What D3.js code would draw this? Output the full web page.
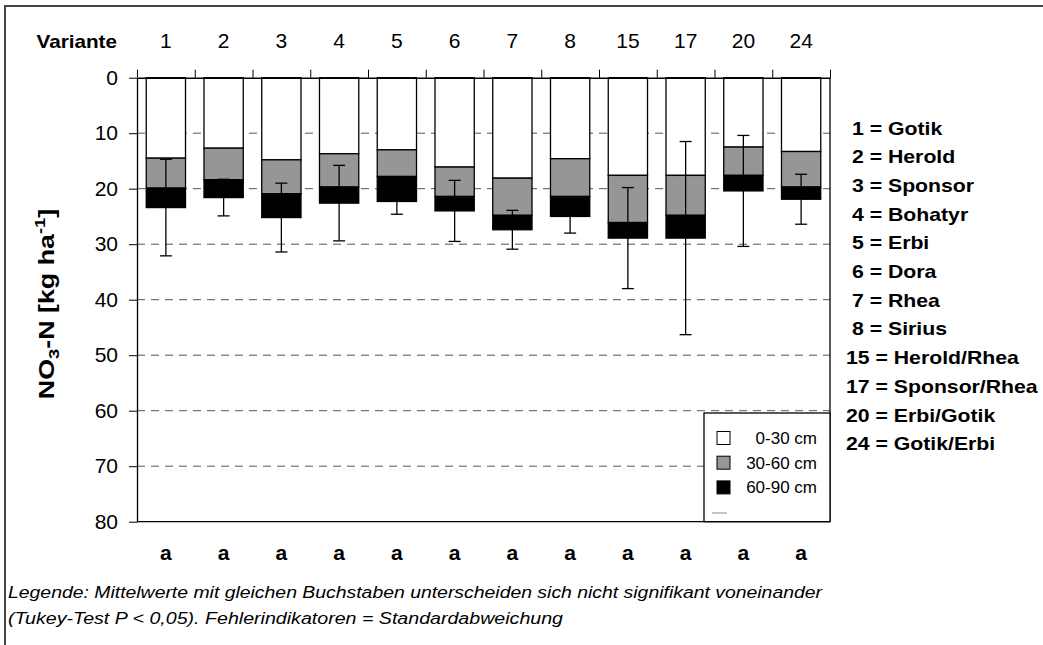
<!DOCTYPE html>
<html><head><meta charset="utf-8">
<script src="https://cdn.jsdelivr.net/npm/d3@7"></script>
<style>body{margin:0;background:#fff}svg{display:block}text{font-family:"Liberation Sans",Arial,sans-serif}</style>
</head><body>
<script>
const categories = ["1","2","3","4","5","6","7","8","15","17","20","24"];
const layer0_30  = [14.5,12.7,14.8,13.7,13.0,16.1,18.1,14.6,17.6,17.6,12.5,13.3];
const layer30_60 = [5.4,5.7,6.1,6.0,4.8,5.3,6.7,6.8,8.5,7.2,5.1,6.4];
const layer60_90 = [3.5,3.2,4.3,2.9,4.5,2.6,2.6,3.6,2.8,4.1,2.8,2.2];
const stdDev     = [8.7,3.3,6.2,6.8,2.3,5.5,3.5,3.0,9.1,17.4,10.0,4.5];
const letters    = ["a","a","a","a","a","a","a","a","a","a","a","a"];
const yTicks     = [0,10,20,30,40,50,60,70,80];
const seriesNames = ["0-30 cm","30-60 cm","60-90 cm"];
const varietyNames = ["1 = Gotik","2 = Herold","3 = Sponsor","4 = Bohatyr","5 = Erbi","6 = Dora","7 = Rhea","8 = Sirius","15 = Herold/Rhea","17 = Sponsor/Rhea","20 = Erbi/Gotik","24 = Gotik/Erbi"];
const noteLines = ["Legende: Mittelwerte mit gleichen Buchstaben unterscheiden sich nicht signifikant voneinander","(Tukey-Test P < 0,05). Fehlerindikatoren = Standardabweichung"];
const colors = ["#ffffff","#969696","#000000"];

const W = 1043, H = 645;
const svg = d3.select("body").append("svg").attr("width", W).attr("height", H);

// frame
svg.append("rect").attr("x",5).attr("y",6).attr("width",1200).attr("height",800)
  .attr("fill","none").attr("stroke","#444").attr("stroke-width",2);

const L = 137, R = 830, T = 77.7, B = 521.7;
const x = d3.scaleBand().domain(categories).range([L,R]).paddingInner(0.32).paddingOuter(0.16);
const xb = d3.scaleLinear().domain([0,categories.length]).range([L,R]);
const y = d3.scaleLinear().domain([0,80]).range([T,B]);

// gridlines
svg.append("g").selectAll("line").data(yTicks.filter(v=>v>0 && v<80)).join("line")
  .attr("x1",L).attr("x2",R).attr("y1",d=>y(d)).attr("y2",d=>y(d))
  .attr("stroke","#555").attr("stroke-width",1).attr("stroke-dasharray","8,6");

// stacked bars
const data = categories.map((c,i)=>({c, v:[layer0_30[i],layer30_60[i],layer60_90[i]], sd:stdDev[i]}));
const stack = d3.stack().keys([0,1,2]).value((d,k)=>d.v[k]);
const series = stack(data);
series.forEach((s,k)=>{
  svg.append("g").selectAll("rect").data(s).join("rect")
    .attr("x",d=>x(d.data.c)).attr("width",x.bandwidth())
    .attr("y",d=>y(d[0])).attr("height",d=>y(d[1])-y(d[0]))
    .attr("fill",colors[k]).attr("stroke","#000").attr("stroke-width",1.3);
});

// error bars
const eg = svg.append("g").attr("stroke","#000").attr("stroke-width",1.3);
data.forEach(d=>{
  const tot = d3.sum(d.v), cx = x(d.c)+x.bandwidth()/2;
  eg.append("line").attr("x1",cx).attr("x2",cx).attr("y1",y(tot-d.sd)).attr("y2",y(tot+d.sd));
  [tot-d.sd, tot+d.sd].forEach(v=>eg.append("line").attr("x1",cx-6).attr("x2",cx+6).attr("y1",y(v)).attr("y2",y(v)));
});

// plot border (right & bottom)
svg.append("line").attr("x1",R).attr("x2",R).attr("y1",T).attr("y2",B).attr("stroke","#000").attr("stroke-width",1.3);
svg.append("line").attr("x1",L).attr("x2",R).attr("y1",B).attr("y2",B).attr("stroke","#000").attr("stroke-width",1.3);

// left axis
const ya = svg.append("g").attr("transform",`translate(${L},0)`)
  .call(d3.axisLeft(y).tickValues(yTicks).tickSize(8).tickPadding(11).tickSizeOuter(0));
ya.select(".domain").attr("stroke","#000").attr("stroke-width",1.3);
ya.selectAll(".tick line").attr("stroke","#000");
ya.selectAll("text").attr("font-size",21).attr("fill","#000").attr("font-family","Liberation Sans, Arial");

// top boundary ticks
const ta = svg.append("g").attr("transform",`translate(0,${T})`)
  .call(d3.axisTop(xb).tickValues(d3.range(categories.length+1)).tickFormat("").tickSize(8).tickSizeOuter(0));
ta.select(".domain").attr("stroke","#000").attr("stroke-width",1.5);
ta.selectAll(".tick line").attr("stroke","#000");

// top category labels
const tl = svg.append("g").attr("transform",`translate(0,${T})`)
  .call(d3.axisTop(x).tickSize(0).tickPadding(30));
tl.select(".domain").remove();
tl.selectAll("text").attr("font-size",21).attr("fill","#000").attr("font-family","Liberation Sans, Arial");

svg.append("text").attr("transform","translate(117,48) scale(1.15,1)").attr("text-anchor","end")
  .attr("font-size",18).attr("font-weight","bold").text("Variante");

// bottom letters
svg.append("g").selectAll("text").data(categories).join("text")
  .attr("x",d=>x(d)+x.bandwidth()/2).attr("y",560).attr("text-anchor","middle")
  .attr("font-size",21).attr("font-weight","bold").text((d,i)=>letters[i]);

// y title
const yt = svg.append("text").attr("transform","translate(54,304) rotate(-90) scale(1.22,1)")
  .attr("text-anchor","middle").attr("font-size",22).attr("font-weight","bold");
yt.append("tspan").text("NO");
yt.append("tspan").attr("font-size",15).attr("dy",5).text("3");
yt.append("tspan").attr("dy",-5).text("-N [kg ha");
yt.append("tspan").attr("font-size",15).attr("dy",-9).text("-1");
yt.append("tspan").attr("dy",9).text("]");

// series legend
const lg = svg.append("g");
lg.append("rect").attr("x",704).attr("y",413).attr("width",R-704).attr("height",B-413)
  .attr("fill","#fff").attr("stroke","#000").attr("stroke-width",1.3);
seriesNames.forEach((s,i)=>{
  const cy = 438 + i*24.7;
  lg.append("rect").attr("x",717).attr("y",cy-6.5).attr("width",13).attr("height",13)
    .attr("fill",colors[i]).attr("stroke","#000").attr("stroke-width",1);
  lg.append("text").attr("x",817).attr("y",cy+6).attr("text-anchor","end").attr("font-size",17).text(s);
});
lg.append("line").attr("x1",712).attr("x2",727).attr("y1",513).attr("y2",513).attr("stroke","#888").attr("stroke-width",1);

// variety names
svg.append("g").selectAll("text").data(varietyNames).join("text")
  .attr("transform",(d,i)=>`translate(${d.indexOf(" ")===1?852:846},${128+i*28.7+6.5}) scale(1.18,1)`)
  .attr("font-size",18).attr("font-weight","bold").text(d=>d);

// note
noteLines.forEach((t,i)=>{
  svg.append("text").attr("x",8).attr("y",598+i*26).attr("font-size",16).attr("font-style","italic")
    .attr("textLength", i===0?814:555).attr("lengthAdjust","spacingAndGlyphs").text(t);
});
</script>
</body></html>
